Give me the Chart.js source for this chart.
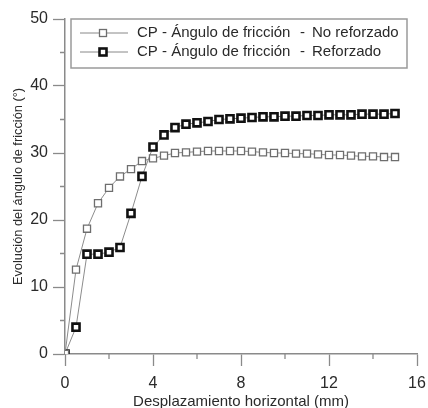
<!DOCTYPE html>
<html>
<head>
<meta charset="utf-8">
<script src="https://cdn.jsdelivr.net/npm/chart.js@4/dist/chart.umd.min.js"></script>
<style>
  html, body { margin: 0; padding: 0; background: #fff; }
  #wrap { width: 428px; height: 408px; }
</style>
</head>
<body>
<div id="wrap"><canvas id="c" width="428" height="408"></canvas></div>
<script>
// Horizontal displacement (mm), every 0.5 mm
const displacement = [0, 0.5, 1, 1.5, 2, 2.5, 3, 3.5, 4, 4.5, 5, 5.5, 6, 6.5, 7, 7.5,
    8, 8.5, 9, 9.5, 10, 10.5, 11, 11.5, 12, 12.5, 13, 13.5, 14, 14.5, 15];

// Friction angle (deg) - not reinforced (open squares)
const noReforzado = [0, 12.6, 18.7, 22.5, 24.8, 26.5, 27.6, 28.8, 29.2, 29.6, 30.0, 30.1, 30.2, 30.3, 30.3, 30.3,
    30.3, 30.2, 30.1, 30.0, 30.0, 29.9, 29.9, 29.8, 29.7, 29.7, 29.6, 29.5, 29.5, 29.4, 29.4];

// Friction angle (deg) - reinforced (filled squares)
const reforzado = [0, 4.0, 14.9, 14.9, 15.2, 15.9, 21.0, 26.5, 30.9, 32.7, 33.8, 34.3, 34.5, 34.7, 35.0, 35.1,
    35.2, 35.3, 35.4, 35.4, 35.5, 35.5, 35.6, 35.6, 35.7, 35.7, 35.7, 35.8, 35.8, 35.8, 35.9];

const seriesNames = ['CP - Ángulo de fricción', 'CP - Ángulo de fricción'];
const seriesSuffix = ['No reforzado', 'Reforzado'];
const xTickLabels = [0, 4, 8, 12, 16];
const yTickLabels = [0, 10, 20, 30, 40, 50];

const FONT = '"Liberation Sans", Arial, sans-serif';
const TEXT = '#2a2a2a';
const AXIS = '#8a8a8a';

const styles = [
    { bg: '#fff', border: '#6e6e6e', width: 1.3 },
    { bg: '#fff', border: '#111', width: 2.6 }
];

// Minor ticks (shorter) drawn by hand, major ones come from the scale
const minorTicks = {
    id: 'minorTicks',
    afterDraw(chart) {
        const { ctx, scales: { x, y } } = chart;
        ctx.save();
        ctx.strokeStyle = AXIS;
        ctx.lineWidth = 1.3;
        ctx.beginPath();
        [2, 6, 10, 14].forEach(v => {
            const px = x.getPixelForValue(v);
            ctx.moveTo(px, y.bottom);
            ctx.lineTo(px, y.bottom + 5);
        });
        [5, 15, 25, 35, 45].forEach(v => {
            const py = y.getPixelForValue(v);
            ctx.moveTo(x.left, py);
            ctx.lineTo(x.left - 5, py);
        });
        ctx.stroke();
        ctx.restore();
    }
};

// Legend box in the top-left like the original
const legendBox = {
    id: 'legendBox',
    afterDraw(chart) {
        const { ctx } = chart;
        ctx.save();
        ctx.strokeStyle = '#9a9a9a';
        ctx.lineWidth = 1.5;
        ctx.strokeRect(71, 19, 336, 49);
        ctx.font = '15px ' + FONT;
        ctx.textBaseline = 'middle';
        [33, 52].forEach((yy, i) => {
            const s = styles[i];
            ctx.strokeStyle = '#888';
            ctx.lineWidth = 1;
            ctx.beginPath();
            ctx.moveTo(80, yy);
            ctx.lineTo(128, yy);
            ctx.stroke();
            ctx.fillStyle = s.bg;
            ctx.strokeStyle = s.border;
            ctx.lineWidth = s.width;
            ctx.fillRect(99.5, yy - 3.5, 7, 7);
            ctx.strokeRect(99.5, yy - 3.5, 7, 7);
            ctx.fillStyle = TEXT;
            ctx.fillText(seriesNames[i], 137, yy);
            ctx.fillText('-', 300, yy);
            ctx.fillText(seriesSuffix[i], 312, yy);
        });
        ctx.restore();
    }
};

function ds(data, s) {
    return {
        data: displacement.map((x, i) => ({ x, y: data[i] })),
        borderColor: '#8c8c8c',
        borderWidth: 1,
        pointStyle: 'rect',
        pointRadius: 5,
        pointBackgroundColor: s.bg,
        pointBorderColor: s.border,
        pointBorderWidth: s.width,
        tension: 0
    };
}

new Chart(document.getElementById('c'), {
    type: 'line',
    data: {
        datasets: [ds(noReforzado, styles[0]), ds(reforzado, styles[1])]
    },
    options: {
        responsive: false,
        animation: false,
        layout: { padding: { top: 19, right: 0, left: 11, bottom: 0 } },
        scales: {
            x: {
                type: 'linear',
                min: 0,
                max: 16,
                afterBuildTicks: (s) => { s.ticks = xTickLabels.map(v => ({ value: v })); },
                afterFit: (s) => { s.height = 54; s.paddingRight = 11; s.paddingLeft = 0; },
                border: { color: AXIS, width: 1.5 },
                grid: { drawOnChartArea: false, tickLength: 12, color: AXIS, tickColor: AXIS, tickWidth: 1.3 },
                ticks: { color: TEXT, font: { family: FONT, size: 16 }, padding: 8, maxRotation: 0 },
                title: { display: true, text: 'Desplazamiento horizontal (mm)', color: TEXT,
                    font: { family: FONT, size: 15, lineHeight: 1 }, padding: { top: 0, bottom: -1 } }
            },
            y: {
                min: 0,
                max: 50,
                afterBuildTicks: (s) => { s.ticks = yTickLabels.map(v => ({ value: v })); },
                afterFit: (s) => { s.width = 54; },
                border: { color: AXIS, width: 1.5 },
                grid: { drawOnChartArea: false, tickLength: 12, color: AXIS, tickColor: AXIS, tickWidth: 1.3 },
                ticks: { color: TEXT, font: { family: FONT, size: 16 }, padding: 5 },
                title: { display: true, text: 'Evolución del ángulo de fricción (°)', color: TEXT,
                    font: { family: FONT, size: 12.8 }, padding: { top: 0, bottom: 0 } }
            }
        },
        plugins: {
            legend: { display: false },
            tooltip: { enabled: false }
        }
    },
    plugins: [minorTicks, legendBox]
});
</script>
</body>
</html>
